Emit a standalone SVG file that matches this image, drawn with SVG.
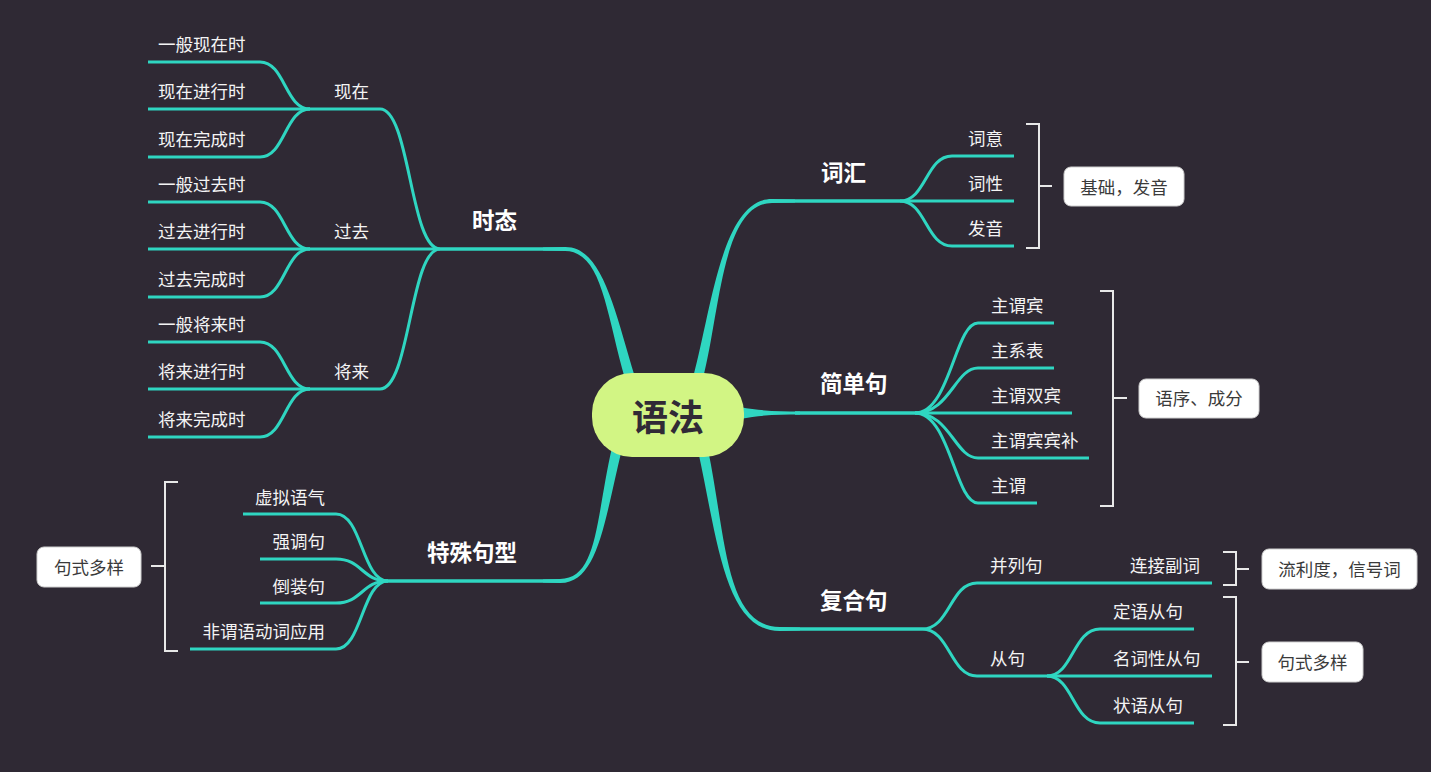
<svg xmlns="http://www.w3.org/2000/svg" width="1431" height="772" viewBox="0 0 1431 772">
<style>
  .ln{fill:none;stroke:#2fd6c1;stroke-width:3}
  .ln2{fill:none;stroke:#2fd6c1;stroke-width:3.5}
  .thick{fill:#2fd6c1;stroke:none}
  .br{fill:none;stroke:#e8e8e8;stroke-width:2}
  .t{font-family:"Noto Sans CJK SC","Microsoft YaHei",sans-serif;font-size:17.5px;fill:#f4f4f4;dominant-baseline:central}
  .b{font-family:"Noto Sans CJK SC","Microsoft YaHei",sans-serif;font-size:22.5px;font-weight:bold;fill:#ffffff;dominant-baseline:central}
  .e{text-anchor:end}
  .box{fill:#ffffff;stroke:#cfcfcf;stroke-width:1}
  .bt{font-family:"Noto Sans CJK SC","Microsoft YaHei",sans-serif;font-size:17.5px;fill:#3a3a3a;text-anchor:middle;dominant-baseline:central}
</style>
<rect x="0" y="0" width="1431" height="772" fill="#2f2934"/>

<g id="connectors">
  <path class="thick" d="M625.2,379.4 C605.7,311.3 602,251.5 565,251 L543,250.6 L543,247.4 L565,247 C602,246.5 614.3,308.7 634.8,376.6 Z"/>
  <path class="thick" d="M693.2,376.7 C711.6,308.8 722,198.5 772,199 L795,199.4 L795,202.6 L772,203 C722,203.5 720.4,311.2 702.8,379.3 Z"/>
  <path class="thick" d="M740,407 C762,411.3 780,411.5 800,411.5 L800,414.5 C780,414.5 762,414.7 740,419 Z"/>
  <path class="thick" d="M707.9,449 C726.4,539.1 725,626.5 780,627 L800,627.4 L800,630.6 L780,631 C725,631.5 717.6,540.9 698.1,451 Z"/>
  <path class="thick" d="M621.9,449.2 C604.4,521 598,583.5 560,583 L543,582.6 L543,579.4 L560,579 C598,578.5 595.6,519 612.1,446.9 Z"/>

  <path class="ln2" d="M565,249 L440,249"/>
  <path class="ln" d="M440,249 C410,249 410,109 380,109 L310,109"/>
  <path class="ln" d="M440,249 L310,249"/>
  <path class="ln" d="M440,249 C410,249 410,389 380,389 L310,389"/>
  <path class="ln" d="M310,109 C285,109 285,62 260,62 L148,62"/>
  <path class="ln" d="M310,109 L148,109"/>
  <path class="ln" d="M310,109 C285,109 285,157 260,157 L148,157"/>
  <path class="ln" d="M310,249 C285,249 285,202 260,202 L148,202"/>
  <path class="ln" d="M310,249 L148,249"/>
  <path class="ln" d="M310,249 C285,249 285,297 260,297 L148,297"/>
  <path class="ln" d="M310,389 C285,389 285,342 260,342 L148,342"/>
  <path class="ln" d="M310,389 L148,389"/>
  <path class="ln" d="M310,389 C285,389 285,437 260,437 L148,437"/>

  <path class="ln2" d="M772,201 L900,201"/>
  <path class="ln" d="M900,201 C926,201 926,156 952,156 L1014,156"/>
  <path class="ln" d="M900,201 L1014,201"/>
  <path class="ln" d="M900,201 C926,201 926,246 952,246 L1014,246"/>

  <path class="ln2" d="M795,413 L915,413"/>
  <path class="ln" d="M915,413 C950,413 955,323 978,323 L1054,323"/>
  <path class="ln" d="M915,413 C950,413 955,368 978,368 L1054,368"/>
  <path class="ln" d="M915,413 L1072,413"/>
  <path class="ln" d="M915,413 C950,413 955,458 978,458 L1089,458"/>
  <path class="ln" d="M915,413 C950,413 955,503 978,503 L1037,503"/>

  <path class="ln2" d="M780,629 L922,629"/>
  <path class="ln" d="M922,629 C950,629 950,583 977,583 L1212,583"/>
  <path class="ln" d="M922,629 C950,629 950,676 977,676 L1047,676"/>
  <path class="ln" d="M1047,676 C1073,676 1073,629 1100,629 L1194,629"/>
  <path class="ln" d="M1047,676 L1212,676"/>
  <path class="ln" d="M1047,676 C1073,676 1073,723 1100,723 L1194,723"/>

  <path class="ln2" d="M560,581 L388,581"/>
  <path class="ln" d="M388,581 C362,581 362,514 336,514 L243,514"/>
  <path class="ln" d="M388,581 C362,581 362,559 336,559 L260,559"/>
  <path class="ln" d="M388,581 C362,581 362,603 336,603 L260,603"/>
  <path class="ln" d="M388,581 C362,581 362,649 336,649 L190,649"/>

  <path class="br" d="M1026,124 L1039,124 L1039,248 L1026,248 M1039,186 L1052,186"/>
  <path class="br" d="M1100,291 L1113,291 L1113,506 L1100,506 M1113,398 L1127,398"/>
  <path class="br" d="M1223,552 L1236,552 L1236,585 L1223,585 M1236,569 L1249,569"/>
  <path class="br" d="M1223,597 L1236,597 L1236,725 L1223,725 M1236,662 L1249,662"/>
  <path class="br" d="M178,482 L165,482 L165,651 L178,651 M165,566 L151,566"/>
</g>

<g id="root">
  <rect x="592" y="373" width="152" height="84" rx="40" ry="40" fill="#d2f584"/>
  <text x="668" y="415" font-family="Noto Sans CJK SC, Microsoft YaHei, sans-serif" font-size="36" font-weight="bold" fill="#302a36" text-anchor="middle" dominant-baseline="central">语法</text>
</g>

<g id="shitai"><text class="b" x="472" y="219">时态</text></g>
<g id="xianzai"><text class="t" x="334" y="90">现在</text></g>
<g id="guoqu"><text class="t" x="334" y="230">过去</text></g>
<g id="jianglai"><text class="t" x="334" y="370">将来</text></g>
<g id="n1"><text class="t" x="158" y="43">一般现在时</text></g>
<g id="n2"><text class="t" x="158" y="90">现在进行时</text></g>
<g id="n3"><text class="t" x="158" y="138">现在完成时</text></g>
<g id="n4"><text class="t" x="158" y="183">一般过去时</text></g>
<g id="n5"><text class="t" x="158" y="230">过去进行时</text></g>
<g id="n6"><text class="t" x="158" y="278">过去完成时</text></g>
<g id="n7"><text class="t" x="158" y="323">一般将来时</text></g>
<g id="n8"><text class="t" x="158" y="370">将来进行时</text></g>
<g id="n9"><text class="t" x="158" y="418">将来完成时</text></g>

<g id="cihui"><text class="b" x="821" y="171">词汇</text></g>
<g id="ciyi"><text class="t" x="968" y="137">词意</text></g>
<g id="cixing"><text class="t" x="968" y="182">词性</text></g>
<g id="fayin"><text class="t" x="968" y="227">发音</text></g>
<g id="note1"><rect class="box" x="1064" y="167" width="120" height="39" rx="7"/><text class="bt" x="1124" y="186">基础，发音</text></g>

<g id="jiandanju"><text class="b" x="820" y="382">简单句</text></g>
<g id="s1"><text class="t" x="991" y="304">主谓宾</text></g>
<g id="s2"><text class="t" x="991" y="349">主系表</text></g>
<g id="s3"><text class="t" x="991" y="394">主谓双宾</text></g>
<g id="s4"><text class="t" x="991" y="439">主谓宾宾补</text></g>
<g id="s5"><text class="t" x="991" y="484">主谓</text></g>
<g id="note2"><rect class="box" x="1139" y="379" width="120" height="39" rx="7"/><text class="bt" x="1199" y="397.5">语序、成分</text></g>

<g id="fuheju"><text class="b" x="820" y="599">复合句</text></g>
<g id="binglieju"><text class="t" x="990" y="564">并列句</text></g>
<g id="lianjie"><text class="t e" x="1200" y="564">连接副词</text></g>
<g id="congju"><text class="t" x="990" y="657">从句</text></g>
<g id="c1"><text class="t" x="1113" y="610">定语从句</text></g>
<g id="c2"><text class="t" x="1113" y="657">名词性从句</text></g>
<g id="c3"><text class="t" x="1113" y="704">状语从句</text></g>
<g id="note3"><rect class="box" x="1262" y="549" width="155" height="40" rx="7"/><text class="bt" x="1339.5" y="568">流利度，信号词</text></g>
<g id="note4"><rect class="box" x="1262" y="642" width="101" height="40" rx="7"/><text class="bt" x="1312.5" y="661">句式多样</text></g>

<g id="teshu"><text class="b" x="427" y="551">特殊句型</text></g>
<g id="t1"><text class="t e" x="325" y="496">虚拟语气</text></g>
<g id="t2"><text class="t e" x="325" y="540">强调句</text></g>
<g id="t3"><text class="t e" x="325" y="585">倒装句</text></g>
<g id="t4"><text class="t e" x="325" y="630">非谓语动词应用</text></g>
<g id="note5"><rect class="box" x="37" y="547" width="104" height="40" rx="7"/><text class="bt" x="89" y="566">句式多样</text></g>
</svg>
